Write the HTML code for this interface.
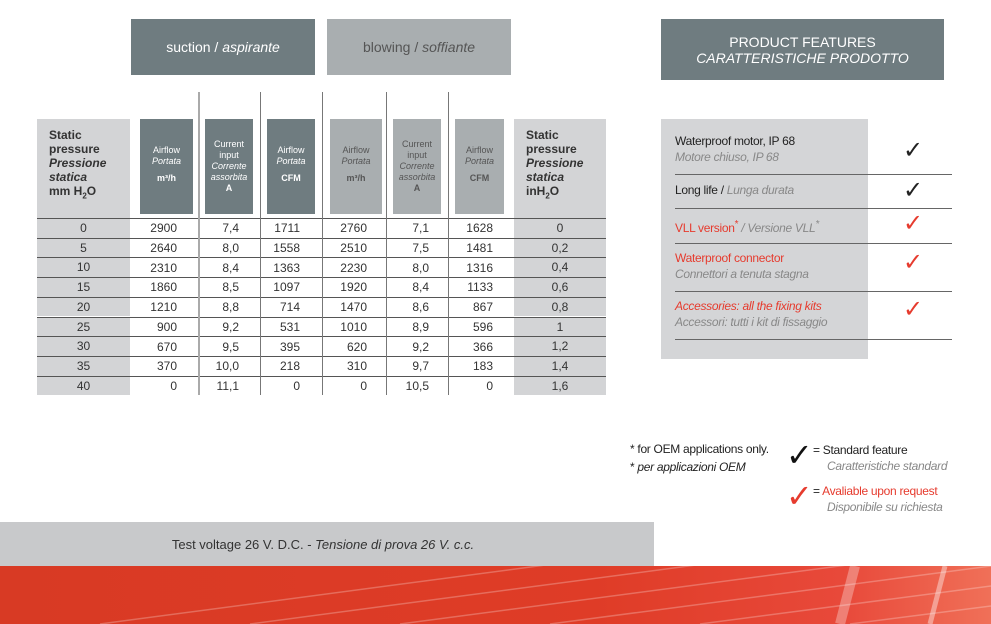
<!DOCTYPE html>
<html><head><meta charset="utf-8"><style>
*{margin:0;padding:0;box-sizing:border-box}
body{width:991px;height:624px;position:relative;background:#fff;font-family:"Liberation Sans",sans-serif;overflow:hidden;color:#333}
.a{position:absolute}
.btn{position:absolute;color:#fff;font-size:14px;display:flex;align-items:center;justify-content:center;text-align:center}
.hb{position:absolute;top:119px;height:95px;color:#fff;font-size:9px;line-height:11px;display:flex;align-items:center;justify-content:center;text-align:center}
.hb>div{display:block}
.dk{background:#6f7c80}.lt{background:#a9aeb0}
.vl{position:absolute;top:92px;height:303px;width:1px;background:#777}
.row{position:absolute;left:37px;width:569px;height:19.7px;border-top:1px solid #555;font-size:12px;color:#333;display:flex;align-items:center}
.row span{display:block}
.g{background:#d3d4d6}
.ft{position:absolute;left:675px;font-size:12px;line-height:16px;letter-spacing:-0.3px}
.ln{position:absolute;left:675px;width:277px;height:1px;background:#666}
.ck{position:absolute;font-size:24px;left:903px;font-weight:100}
.red{color:#e63b2e}
</style></head><body>
<div class="btn dk" style="left:131px;top:19px;width:184px;height:56px">suction /&nbsp;<i>aspirante</i></div>
<div class="btn lt" style="left:327px;top:19px;width:184px;height:56px;color:#555">blowing /&nbsp;<i>soffiante</i></div>
<div class="btn dk" style="left:661px;top:19px;width:283px;height:61px"><div style="line-height:16px">PRODUCT FEATURES<br><i>CARATTERISTICHE PRODOTTO</i></div></div>

<div class="a g" style="left:37px;top:119px;width:93px;height:99px"></div>
<div class="a g" style="left:514px;top:119px;width:92px;height:99px"></div>
<div class="a" style="left:49px;top:128px;font-size:12px;font-weight:bold;line-height:14px;color:#333">Static<br>pressure<br><i>Pressione<br>statica</i><br>mm H<sub style="font-size:8px">2</sub>O</div>
<div class="a" style="left:526px;top:128px;font-size:12px;font-weight:bold;line-height:14px;color:#333">Static<br>pressure<br><i>Pressione<br>statica</i><br>inH<sub style="font-size:8px">2</sub>O</div>
<div class="hb dk" style="left:140px;width:53px"><div>Airflow<br><i>Portata</i><br><b style="line-height:22px">m³/h</b></div></div>
<div class="hb dk" style="left:205px;width:48px"><div>Current<br>input<br><i>Corrente<br>assorbita</i><br><b>A</b></div></div>
<div class="hb dk" style="left:267px;width:48px"><div>Airflow<br><i>Portata</i><br><b style="line-height:22px">CFM</b></div></div>
<div class="hb lt" style="left:330px;width:52px;color:#555"><div>Airflow<br><i>Portata</i><br><b style="line-height:22px">m³/h</b></div></div>
<div class="hb lt" style="left:393px;width:48px;color:#555"><div>Current<br>input<br><i>Corrente<br>assorbita</i><br><b>A</b></div></div>
<div class="hb lt" style="left:455px;width:49px;color:#555"><div>Airflow<br><i>Portata</i><br><b style="line-height:22px">CFM</b></div></div>

<div class="row" style="top:218px"><span class="g" style="width:93px;height:100%;text-align:center;line-height:19px">0</span><span style="width:47px;text-align:right">2900</span><span style="width:62px;text-align:right">7,4</span><span style="width:61px;text-align:right">1711</span><span style="width:67px;text-align:right">2760</span><span style="width:62px;text-align:right">7,1</span><span style="width:64px;text-align:right">1628</span><span class="g" style="margin-left:21px;width:92px;height:100%;text-align:center;line-height:19px">0</span></div>
<div class="row" style="top:237.7px"><span class="g" style="width:93px;height:100%;text-align:center;line-height:19px">5</span><span style="width:47px;text-align:right">2640</span><span style="width:62px;text-align:right">8,0</span><span style="width:61px;text-align:right">1558</span><span style="width:67px;text-align:right">2510</span><span style="width:62px;text-align:right">7,5</span><span style="width:64px;text-align:right">1481</span><span class="g" style="margin-left:21px;width:92px;height:100%;text-align:center;line-height:19px">0,2</span></div>
<div class="row" style="top:257.4px"><span class="g" style="width:93px;height:100%;text-align:center;line-height:19px">10</span><span style="width:47px;text-align:right">2310</span><span style="width:62px;text-align:right">8,4</span><span style="width:61px;text-align:right">1363</span><span style="width:67px;text-align:right">2230</span><span style="width:62px;text-align:right">8,0</span><span style="width:64px;text-align:right">1316</span><span class="g" style="margin-left:21px;width:92px;height:100%;text-align:center;line-height:19px">0,4</span></div>
<div class="row" style="top:277.1px"><span class="g" style="width:93px;height:100%;text-align:center;line-height:19px">15</span><span style="width:47px;text-align:right">1860</span><span style="width:62px;text-align:right">8,5</span><span style="width:61px;text-align:right">1097</span><span style="width:67px;text-align:right">1920</span><span style="width:62px;text-align:right">8,4</span><span style="width:64px;text-align:right">1133</span><span class="g" style="margin-left:21px;width:92px;height:100%;text-align:center;line-height:19px">0,6</span></div>
<div class="row" style="top:296.8px"><span class="g" style="width:93px;height:100%;text-align:center;line-height:19px">20</span><span style="width:47px;text-align:right">1210</span><span style="width:62px;text-align:right">8,8</span><span style="width:61px;text-align:right">714</span><span style="width:67px;text-align:right">1470</span><span style="width:62px;text-align:right">8,6</span><span style="width:64px;text-align:right">867</span><span class="g" style="margin-left:21px;width:92px;height:100%;text-align:center;line-height:19px">0,8</span></div>
<div class="row" style="top:316.5px"><span class="g" style="width:93px;height:100%;text-align:center;line-height:19px">25</span><span style="width:47px;text-align:right">900</span><span style="width:62px;text-align:right">9,2</span><span style="width:61px;text-align:right">531</span><span style="width:67px;text-align:right">1010</span><span style="width:62px;text-align:right">8,9</span><span style="width:64px;text-align:right">596</span><span class="g" style="margin-left:21px;width:92px;height:100%;text-align:center;line-height:19px">1</span></div>
<div class="row" style="top:336.2px"><span class="g" style="width:93px;height:100%;text-align:center;line-height:19px">30</span><span style="width:47px;text-align:right">670</span><span style="width:62px;text-align:right">9,5</span><span style="width:61px;text-align:right">395</span><span style="width:67px;text-align:right">620</span><span style="width:62px;text-align:right">9,2</span><span style="width:64px;text-align:right">366</span><span class="g" style="margin-left:21px;width:92px;height:100%;text-align:center;line-height:19px">1,2</span></div>
<div class="row" style="top:355.9px"><span class="g" style="width:93px;height:100%;text-align:center;line-height:19px">35</span><span style="width:47px;text-align:right">370</span><span style="width:62px;text-align:right">10,0</span><span style="width:61px;text-align:right">218</span><span style="width:67px;text-align:right">310</span><span style="width:62px;text-align:right">9,7</span><span style="width:64px;text-align:right">183</span><span class="g" style="margin-left:21px;width:92px;height:100%;text-align:center;line-height:19px">1,4</span></div>
<div class="row" style="top:375.6px"><span class="g" style="width:93px;height:100%;text-align:center;line-height:19px">40</span><span style="width:47px;text-align:right">0</span><span style="width:62px;text-align:right">11,1</span><span style="width:61px;text-align:right">0</span><span style="width:67px;text-align:right">0</span><span style="width:62px;text-align:right">10,5</span><span style="width:64px;text-align:right">0</span><span class="g" style="margin-left:21px;width:92px;height:100%;text-align:center;line-height:19px">1,6</span></div>

<div class="vl" style="left:198px;background:#aaa;width:2px"></div>
<div class="vl" style="left:260px"></div>
<div class="vl" style="left:322px"></div>
<div class="vl" style="left:386px"></div>
<div class="vl" style="left:448px"></div>

<div class="a" style="left:661px;top:119px;width:207px;height:240px;background:#d4d5d7"></div>
<div class="ft" style="top:133px;color:#222">Waterproof motor, IP 68<br><i style="color:#888">Motore chiuso, IP 68</i></div>
<div class="ft" style="top:182px;color:#222">Long life / <i style="color:#888">Lunga durata</i></div>
<div class="ft" style="top:217px" ><span class="red">VLL version<sup>*</sup></span> <i style="color:#888">/ Versione VLL<sup>*</sup></i></div>
<div class="ft" style="top:250px"><span class="red">Waterproof connector</span><br><i style="color:#888">Connettori a tenuta stagna</i></div>
<div class="ft" style="top:298px"><i class="red">Accessories: all the fixing kits</i><br><i style="color:#888">Accessori: tutti i kit di fissaggio</i></div>
<div class="ln" style="top:174px"></div><div class="ln" style="top:208px"></div><div class="ln" style="top:243px"></div><div class="ln" style="top:291px"></div><div class="ln" style="top:339px"></div>
<div class="ck" style="top:136px;color:#222">✓</div>
<div class="ck" style="top:176px;color:#222">✓</div>
<div class="ck" style="top:209px" ><span class="red">✓</span></div>
<div class="ck" style="top:248px"><span class="red">✓</span></div>
<div class="ck" style="top:295px"><span class="red">✓</span></div>

<div class="a" style="left:630px;top:440px;font-size:12px;line-height:18px;color:#222;letter-spacing:-0.3px">* for OEM applications only.<br>* <i>per applicazioni OEM</i></div>
<div class="a" style="left:786px;top:436px;font-size:32px;color:#111">✓</div>
<div class="a" style="left:813px;top:442px;font-size:12px;line-height:16px;color:#222;letter-spacing:-0.3px">= Standard feature<br><i style="color:#888;margin-left:14px">Caratteristiche standard</i></div>
<div class="a" style="left:786px;top:477px;font-size:32px;color:#e63b2e">✓</div>
<div class="a" style="left:813px;top:483px;font-size:12px;line-height:16px;letter-spacing:-0.3px"><span style="color:#222">=</span> <span class="red">Avaliable upon request</span><br><i style="color:#888;margin-left:14px">Disponibile su richiesta</i></div>

<div class="a" style="left:0;top:522px;width:654px;height:45px;background:#c8c9cb;font-size:13px;color:#333;display:flex;align-items:center;justify-content:center;padding-right:8px">Test voltage 26 V. D.C. -&nbsp;<i>Tensione di prova 26 V. c.c.</i></div>
<div class="a" style="left:0;top:566px;width:991px;height:58px;background:linear-gradient(90deg,#d83a24 0%,#df3c27 60%,#e8493a 85%,#f07058 100%)">
<svg width="991" height="58" style="position:absolute;left:0;top:0"><g stroke="#fff" stroke-opacity="0.25" stroke-width="1.5"><line x1="100" y1="58" x2="991" y2="-60"/><line x1="250" y1="58" x2="991" y2="-40"/><line x1="400" y1="58" x2="991" y2="-20"/><line x1="550" y1="58" x2="991" y2="0"/><line x1="700" y1="58" x2="991" y2="20"/><line x1="850" y1="58" x2="991" y2="40"/></g><line x1="855" y1="0" x2="840" y2="58" stroke="#fff" stroke-opacity="0.3" stroke-width="10"/><line x1="945" y1="0" x2="930" y2="58" stroke="#fff" stroke-opacity="0.4" stroke-width="5"/></svg></div>
</body></html>
